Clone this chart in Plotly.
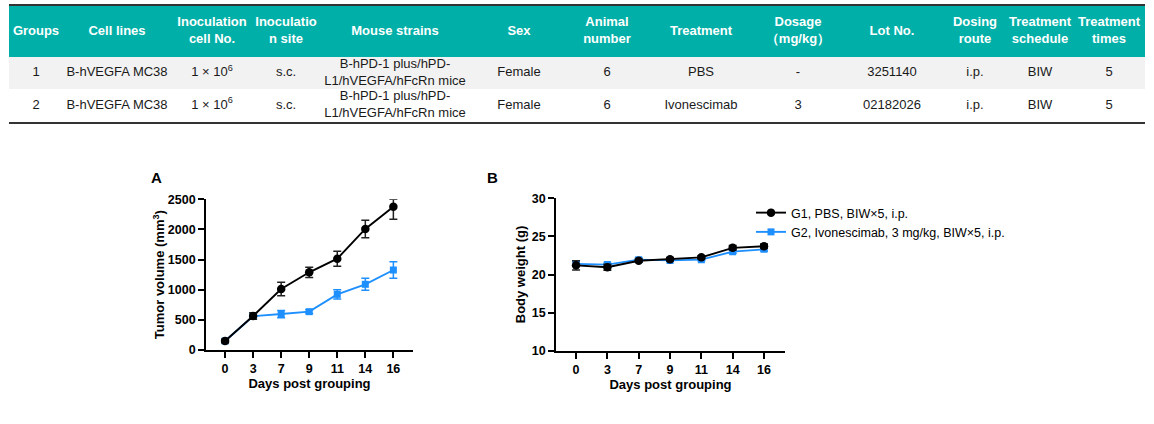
import numpy as np
import plotly.graph_objects as go

# ---- study design table ----
HEADERS = ["Groups", "Cell lines", "Inoculation<br>cell No.", "Inoculatio<br>n site",
           "Mouse strains", "Sex", "Animal<br>number", "Treatment", "Dosage<br>（mg/kg）",
           "Lot No.", "Dosing<br>route", "Treatment<br>schedule", "Treatment<br>times"]
ROW_G1 = ["1", "B-hVEGFA MC38", "1 × 10<sup>6</sup>", "s.c.",
          "B-hPD-1 plus/hPD-<br>L1/hVEGFA/hFcRn mice", "Female", "6", "PBS", "-",
          "3251140", "i.p.", "BIW", "5"]
ROW_G2 = ["2", "B-hVEGFA MC38", "1 × 10<sup>6</sup>", "s.c.",
          "B-hPD-1 plus/hPD-<br>L1/hVEGFA/hFcRn mice", "Female", "6", "Ivonescimab", "3",
          "02182026", "i.p.", "BIW", "5"]

# ---- curves ----
DAYS = ["0", "3", "7", "9", "11", "14", "16"]

G1_VOLUME = [150, 564, 1012, 1289, 1515, 2008, 2378]
G1_VOLUME_UP = [30, 55, 110, 85, 125, 145, 122]
G1_VOLUME_DOWN = [30, 55, 110, 85, 125, 145, 210]
G2_VOLUME = [150, 560, 597, 636, 923, 1090, 1327]
G2_VOLUME_ERR = [20, 40, 60, 30, 75, 100, 138]
TGI_TEXT = "TGI: 47.3%"

G1_WEIGHT = [21.2, 20.95, 21.8, 22.0, 22.25, 23.5, 23.7]
G1_WEIGHT_ERR = [0.6, 0.4, 0.2, 0.2, 0.2, 0.3, 0.3]
G2_WEIGHT = [21.4, 21.3, 21.95, 21.85, 21.95, 23.0, 23.3]
G2_WEIGHT_ERR = [0.3, 0.2, 0.2, 0.15, 0.15, 0.2, 0.2]

G1_NAME = "G1, PBS, BIW×5, i.p."
G2_NAME = "G2, Ivonescimab, 3 mg/kg, BIW×5, i.p."

# layout helpers (positions in page px)
W, H = 1154, 424
COL_WIDTHS = [54, 108, 82, 66, 152, 96, 80, 108, 86, 102, 64, 66, 72]
ROW_HEIGHTS = [51, 32, 33]
TEAL = "#00b0a8"
BLUE = "#1e8fff"
FONT = "Arial, Liberation Sans, sans-serif"


def px_x(x):
    return x / W


def px_y(y):
    return 1 - y / H


col_w = np.array(COL_WIDTHS)
col_centers = np.cumsum(col_w) - col_w / 2
row_h = np.array(ROW_HEIGHTS)
row_centers = np.cumsum(row_h) - row_h / 2

fig = go.Figure()

# table background rows
fig.add_trace(go.Bar(
    y=row_centers, x=[col_w.sum()] * 3, base=0, width=row_h, orientation="h",
    marker=dict(color=[TEAL, "#f2f2f2", "#ffffff"], line=dict(width=0)),
    xaxis="x3", yaxis="y3", showlegend=False, hoverinfo="skip",
))
fig.add_trace(go.Scatter(
    x=col_centers, y=[row_centers[0]] * len(HEADERS), text=[f"<b>{h}</b>" for h in HEADERS],
    mode="text", textfont=dict(family=FONT, size=13, color="white"),
    xaxis="x3", yaxis="y3", showlegend=False, hoverinfo="skip", cliponaxis=False,
))
for i, row in enumerate([ROW_G1, ROW_G2]):
    fig.add_trace(go.Scatter(
        x=col_centers, y=[row_centers[i + 1]] * len(row), text=row,
        mode="text", textfont=dict(family=FONT, size=13, color="#1a1a1a"),
        xaxis="x3", yaxis="y3", showlegend=False, hoverinfo="skip", cliponaxis=False,
    ))

# panel A: tumor volume
fig.add_trace(go.Scatter(
    x=DAYS, y=G2_VOLUME, mode="lines+markers", name=G2_NAME, showlegend=False,
    line=dict(color=BLUE, width=1.9), marker=dict(symbol="square", size=7, color=BLUE),
    error_y=dict(type="data", array=G2_VOLUME_ERR, color=BLUE, thickness=1.5, width=4),
    xaxis="x", yaxis="y",
))
fig.add_trace(go.Scatter(
    x=DAYS, y=G1_VOLUME, mode="lines+markers", name=G1_NAME, showlegend=False,
    line=dict(color="black", width=1.9), marker=dict(symbol="circle", size=8.5, color="black"),
    error_y=dict(type="data", array=G1_VOLUME_UP, arrayminus=G1_VOLUME_DOWN,
                 symmetric=False, color="#222", thickness=1.5, width=4),
    xaxis="x", yaxis="y",
))

# panel B: body weight
fig.add_trace(go.Scatter(
    x=DAYS, y=G2_WEIGHT, mode="lines+markers", name=G2_NAME, legendrank=2,
    line=dict(color=BLUE, width=1.9), marker=dict(symbol="square", size=7, color=BLUE),
    error_y=dict(type="data", array=G2_WEIGHT_ERR, color=BLUE, thickness=1.5, width=4),
    xaxis="x2", yaxis="y2",
))
fig.add_trace(go.Scatter(
    x=DAYS, y=G1_WEIGHT, mode="lines+markers", name=G1_NAME, legendrank=1,
    line=dict(color="black", width=1.9), marker=dict(symbol="circle", size=8.5, color="black"),
    error_y=dict(type="data", array=G1_WEIGHT_ERR, color="#222", thickness=1.5, width=4),
    xaxis="x2", yaxis="y2",
))

axis_common = dict(
    showline=True, linecolor="black", linewidth=1.7, showgrid=False, zeroline=False,
    ticks="outside", ticklen=6, tickwidth=1.7, tickcolor="black",
    tickfont=dict(family=FONT, size=12.5, color="black", weight="bold"),
    title_font=dict(family=FONT, size=13, color="black", weight="bold"),
    automargin=False,
)

fig.update_layout(
    width=W, height=H, margin=dict(l=0, r=0, t=0, b=0),
    paper_bgcolor="white", plot_bgcolor="white",
    font=dict(family=FONT, color="black"),
    xaxis=dict(axis_common, domain=[px_x(206), px_x(413)], type="category", anchor="y",
               range=[-0.68, 6.70], title=dict(text="Days post grouping", standoff=4)),
    yaxis=dict(axis_common, domain=[px_y(350), px_y(199.3)], range=[0, 2500], anchor="x",
               dtick=500, title=dict(text="Tumor volume (mm<sup>3</sup>)", standoff=0)),
    xaxis2=dict(axis_common, domain=[px_x(556), px_x(785)], type="category", anchor="y2",
                range=[-0.64, 6.67], title=dict(text="Days post grouping", standoff=4)),
    yaxis2=dict(axis_common, domain=[px_y(350.7), px_y(198.3)], range=[10, 30],
                anchor="x2", dtick=5, title=dict(text="Body weight (g)", standoff=3)),
    xaxis3=dict(domain=[px_x(9), px_x(1145)], range=[0, col_w.sum()], anchor="y3",
                showline=True, mirror=True, linecolor="#333", linewidth=2, showgrid=False,
                zeroline=False, showticklabels=False, ticks="", fixedrange=True),
    yaxis3=dict(domain=[px_y(122), px_y(6)], range=[row_h.sum(), 0], anchor="x3",
                showline=False, showgrid=False, zeroline=False, showticklabels=False,
                ticks="", fixedrange=True),
    legend=dict(x=px_x(751), y=px_y(198), xanchor="left", yanchor="top",
                font=dict(family=FONT, size=12.5, color="black"),
                bgcolor="rgba(0,0,0,0)", tracegroupgap=0),
    showlegend=True,
    bargap=0,
)

fig.add_annotation(x=DAYS[-1], y=G2_VOLUME[-1], xref="x", yref="y", text=f"<b>{TGI_TEXT}</b>",
                   showarrow=False, xanchor="left", xshift=10,
                   font=dict(family=FONT, size=10.5, color="#2d2de6"))
fig.add_annotation(x=px_x(149), y=px_y(177), xref="paper", yref="paper", text="<b>A</b>",
                   showarrow=False, font=dict(family=FONT, size=15, color="black"))
fig.add_annotation(x=px_x(492), y=px_y(177), xref="paper", yref="paper", text="<b>B</b>",
                   showarrow=False, font=dict(family=FONT, size=15, color="black"))

# drop the default 8px page margin so the figure sits at the window's corner
fig.write_html("out.html", config={"displayModeBar": False},
               post_script="document.body.style.margin='0px';")
